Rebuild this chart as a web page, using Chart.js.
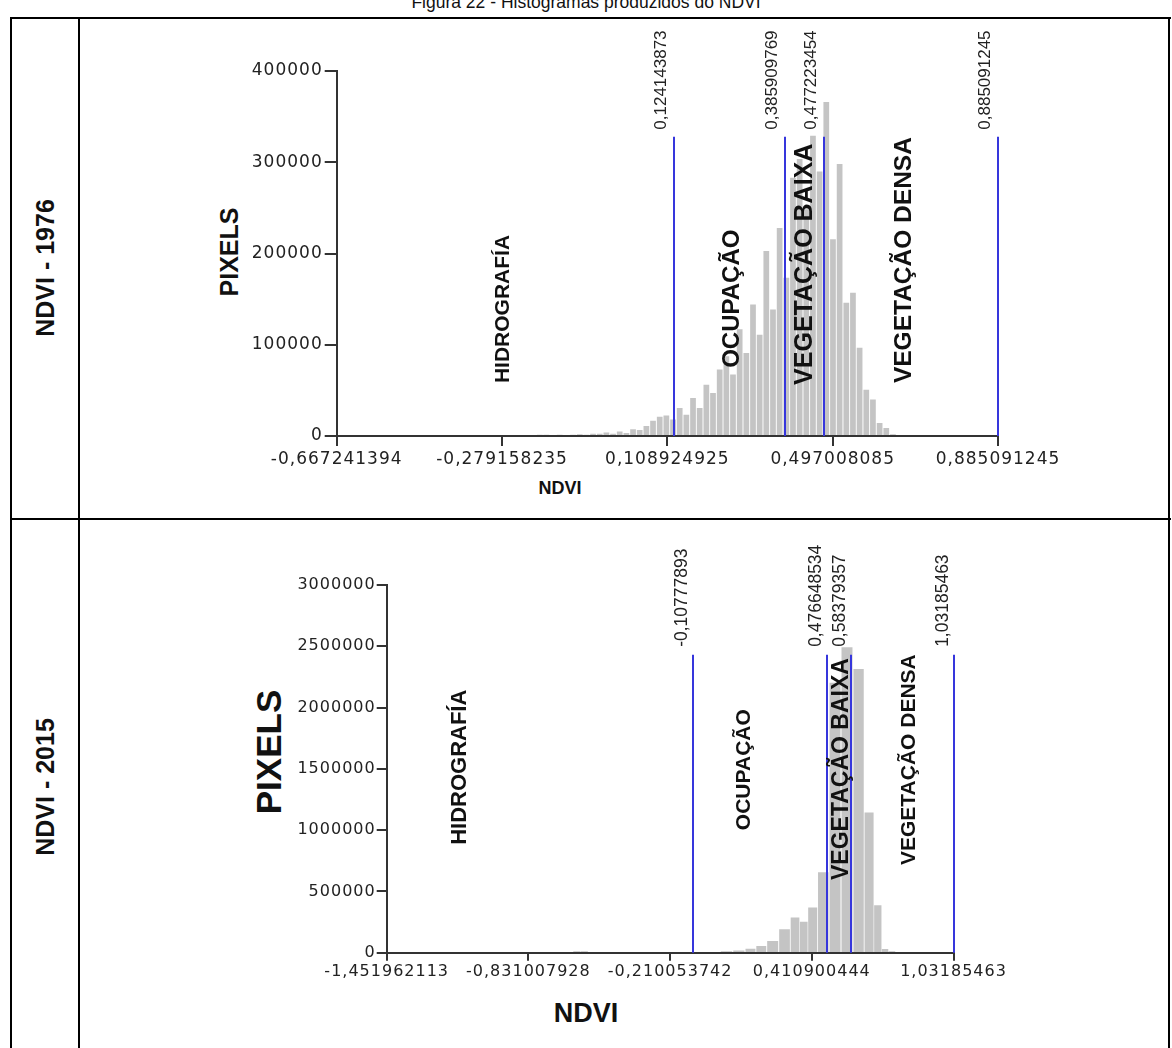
<!DOCTYPE html>
<html><head><meta charset="utf-8">
<script src="https://cdn.jsdelivr.net/npm/chart.js@4.4.1/dist/chart.umd.min.js"></script>
<style>
html,body{margin:0;padding:0;background:#fff;width:1172px;height:1048px;overflow:hidden;font-family:"Liberation Sans",Arial,sans-serif;}
.hl{position:absolute;background:#000;height:2px;}
.vl{position:absolute;background:#000;width:2px;}
.rot{position:absolute;transform:translate(-50%,-50%) rotate(-90deg);white-space:nowrap;font-weight:bold;color:#111;line-height:1;}
.txt{position:absolute;transform:translate(-50%,-50%);white-space:nowrap;font-weight:bold;color:#111;line-height:1;}
canvas{position:absolute;}
</style></head><body>
<div style="position:absolute;left:0;top:-8px;width:1172px;text-align:center;font-size:17.5px;color:#111;">Figura 22 - Histogramas produzidos do NDVI</div>
<div class="hl" style="left:11px;top:17px;width:1160px"></div>
<div class="hl" style="left:11px;top:518px;width:1160px"></div>
<div class="vl" style="left:10px;top:17px;height:1031px"></div>
<div class="vl" style="left:78px;top:17px;height:1031px"></div>
<div class="vl" style="left:1168px;top:17px;height:1031px"></div>
<div class="rot" style="left:45px;top:268px;font-size:25px;">NDVI - 1976</div>
<div class="rot" style="left:45px;top:787px;font-size:25px;">NDVI - 2015</div>
<div class="rot" style="left:229px;top:252px;font-size:25px;">PIXELS</div>
<div class="txt" style="left:560px;top:488px;font-size:18px;">NDVI</div>
<div class="rot" style="left:268px;top:752px;font-size:35px;">PIXELS</div>
<div class="txt" style="left:586px;top:1013px;font-size:27px;">NDVI</div>
<canvas id="c1" width="860" height="480" style="left:200px;top:28px"></canvas>
<canvas id="c2" width="800" height="518" style="left:230px;top:530px"></canvas>
<script>
// ---------- NDVI 1976 ----------
const ndviBins1976 = [-0.1906,-0.1750,-0.1593,-0.1437,-0.1280,-0.1124,-0.0967,-0.0811,-0.0655,-0.0498,
  -0.0342,-0.0185,-0.0029,0.0128,0.0284,0.0440,0.0597,0.0753,0.0910,0.1066,
  0.1223,0.1379,0.1535,0.1692,0.1848,0.2005,0.2161,0.2318,0.2474,0.2630,
  0.2787,0.2943,0.3100,0.3256,0.3412,0.3569,0.3725,0.3882,0.4038,0.4195,
  0.4351,0.4507,0.4664,0.4820,0.4977,0.5133,0.5290,0.5446,0.5602,0.5759,
  0.5915,0.6072,0.6228,0.6385];
const pixelCounts1976 = [1500,1500,1000,1500,1200,1500,1800,1500,2500,2500,
  3700,2500,4800,3200,7300,6600,11000,16800,21000,22500,
  18000,30700,23400,41700,30700,56300,47200,72800,87500,67300,
  116900,91000,144000,111000,202800,138600,228000,173500,283000,303500,
  248500,329000,290000,366000,215600,298000,146000,157000,96800,50800,
  40000,14300,8800,2000];
const xTickValues1976 = [-0.667241394,-0.279158235,0.108924925,0.497008085,0.885091245];
const xTickLabels1976 = ['-0,667241394','-0,279158235','0,108924925','0,497008085','0,885091245'];
const classBreaks1976 = [0.124143873,0.385909769,0.477223454,0.885091245];
const classBreakLabels1976 = ['0,124143873','0,385909769','0,477223454','0,885091245'];
const breakLineTop1976 = 328000;

// ---------- NDVI 2015 ----------
const ndviBins2015 = [-0.6505,-0.6199,-0.5849,-0.5543,-0.0165,0.0360,0.0929,0.1440,0.1877,0.2385,
  0.2931,0.3408,0.3749,0.4121,0.4601,0.5126,0.5651,0.6176,0.6635,0.7029,
  0.7313,0.7619,0.7925];
const pixelCounts2015 = [null,8000,8000,null,null,10000,16000,30000,52000,93000,
  188000,284000,250000,367000,653000,2200000,2490000,2312000,1142000,385000,
  27000,8000,null];
const xTickValues2015 = [-1.451962113,-0.831007928,-0.210053742,0.410900444,1.03185463];
const xTickLabels2015 = ['-1,451962113','-0,831007928','-0,210053742','0,410900444','1,03185463'];
const classBreaks2015 = [-0.10777893,0.476648534,0.58379357,1.03185463];
const classBreakLabels2015 = ['-0,10777893','0,476648534','0,58379357','1,03185463'];
const breakLineTop2015 = 2430000;

const classNames = ['HIDROGRAFÍA','OCUPAÇÃO','VEGETAÇÃO BAIXA','VEGETAÇÃO DENSA'];

const spacingPlugin = {
  id: 'spacing',
  beforeDraw(chart, a, o) { chart.ctx.letterSpacing = (o.px || 0) + 'px'; },
  afterDraw(chart) { chart.ctx.letterSpacing = '0px'; }
};

const overlayPlugin = {
  id: 'overlay',
  afterDatasetsDraw(chart, args, o) {
    const ctx = chart.ctx, x = chart.scales.x, y = chart.scales.y;
    ctx.save();
    ctx.letterSpacing = '0px';
    const y0 = y.getPixelForValue(0), y1 = y.getPixelForValue(o.lineTop);
    o.breaks.forEach((v, i) => {
      const px = Math.round(x.getPixelForValue(v));
      ctx.strokeStyle = '#3636dc';
      ctx.lineWidth = 2;
      ctx.beginPath(); ctx.moveTo(px, y0); ctx.lineTo(px, y1); ctx.stroke();
      ctx.save();
      ctx.translate(px - o.labelGap, y1 - o.labelLift);
      ctx.rotate(-Math.PI / 2);
      ctx.font = o.labelFont;
      ctx.fillStyle = '#222';
      ctx.textAlign = 'left';
      ctx.textBaseline = 'bottom';
      ctx.fillText(o.breakLabels[i], 0, 0);
      ctx.restore();
    });
    o.regions.forEach((r, i) => {
      const px = x.getPixelForValue(r.x), py = y.getPixelForValue(r.y);
      ctx.save();
      ctx.translate(px, py);
      ctx.rotate(-Math.PI / 2);
      ctx.font = 'bold ' + r.size + 'px "Liberation Sans"';
      ctx.fillStyle = '#111';
      ctx.textAlign = 'left';
      ctx.textBaseline = 'middle';
      ctx.fillText(classNames[i], 0, 0);
      ctx.restore();
    });
    ctx.restore();
  }
};

function makeChart(id, cfg) {
  const tickFont = {family: 'DejaVu Sans', size: cfg.tickSize};
  return new Chart(document.getElementById(id), {
    type: 'bar',
    data: {
      datasets: [{
        data: cfg.bins.map((b, i) => ({x: b, y: cfg.counts[i]})),
        backgroundColor: '#c4c4c4',
        borderWidth: 0,
        barPercentage: cfg.barPct,
        categoryPercentage: 1,
        barThickness: cfg.barThickness
      }]
    },
    options: {
      responsive: false,
      animation: false,
      devicePixelRatio: 1,
      layout: {padding: {top: cfg.padTop, right: cfg.padRight, left: 0, bottom: 0}},
      plugins: {
        legend: {display: false},
        tooltip: {enabled: false},
        spacing: {px: cfg.spacing},
        overlay: cfg.overlay
      },
      scales: {
        x: {
          type: 'linear',
          min: cfg.xTicks[0],
          max: cfg.xTicks[cfg.xTicks.length - 1],
          offset: false,
          afterBuildTicks: s => { s.ticks = cfg.xTicks.map(v => ({value: v})); },
          afterFit: s => { s.height = cfg.xHeight; },
          grid: {offset: false, drawOnChartArea: false, drawTicks: true, tickLength: cfg.xTickLen, color: '#333', lineWidth: 2},
          border: {display: true, color: '#333', width: 2},
          ticks: {autoSkip: false, maxRotation: 0, minRotation: 0, padding: cfg.xPad, color: '#222', font: tickFont,
                  callback: (v, i) => cfg.xLabels[i]}
        },
        y: {
          min: 0, max: cfg.yMax,
          afterBuildTicks: s => { s.ticks = cfg.yTicks.map(v => ({value: v})); },
          afterFit: s => { s.width = cfg.yWidth; },
          grid: {drawOnChartArea: false, drawTicks: true, tickLength: cfg.yTickLen, color: '#333', lineWidth: 2},
          border: {display: true, color: '#333', width: 2},
          ticks: {padding: cfg.yPad, color: '#222', font: tickFont, callback: v => String(v)}
        }
      }
    },
    plugins: [spacingPlugin, overlayPlugin]
  });
}

const yTicks1976 = [0, 100000, 200000, 300000, 400000];
const yTicks2015 = [0, 500000, 1000000, 1500000, 2000000, 2500000, 3000000];

makeChart('c1', {
  bins: ndviBins1976, counts: pixelCounts1976, xTicks: xTickValues1976, xLabels: xTickLabels1976,
  yTicks: yTicks1976, yMax: 400000, tickSize: 17, spacing: 1, barPct: 0.86,
  padTop: 43, padRight: 62, xHeight: 72, yWidth: 136.7, xTickLen: 10, xPad: 3, yTickLen: 12, yPad: 2,
  overlay: {
    breaks: classBreaks1976, breakLabels: classBreakLabels1976, lineTop: breakLineTop1976,
    labelGap: 4, labelLift: 7, labelFont: '17px "Liberation Sans"',
    regions: [{x: -0.2773, y: 58000, size: 21}, {x: 0.2620, y: 74700, size: 24},
              {x: 0.4334, y: 56000, size: 25}, {x: 0.6655, y: 58000, size: 24.5}]
  }
});

makeChart('c2', {
  bins: ndviBins2015, counts: pixelCounts2015, xTicks: xTickValues2015, xLabels: xTickLabels2015,
  yTicks: yTicks2015, yMax: 3000000, tickSize: 16, spacing: 1, barThickness: 'flex', barPct: 0.86,
  padTop: 55, padRight: 76.5, xHeight: 95.3, yWidth: 156.7, xTickLen: 8, xPad: 2, yTickLen: 10, yPad: 1,
  overlay: {
    breaks: classBreaks2015, breakLabels: classBreakLabels2015, lineTop: breakLineTop2015,
    labelGap: 2, labelLift: 8, labelFont: '17.5px "Liberation Sans"',
    regions: [{x: -1.1315, y: 880000, size: 22}, {x: 0.1147, y: 1000000, size: 21},
              {x: 0.5438, y: 593000, size: 23}, {x: 0.8371, y: 715000, size: 21}]
  }
});
</script>
</body></html>
